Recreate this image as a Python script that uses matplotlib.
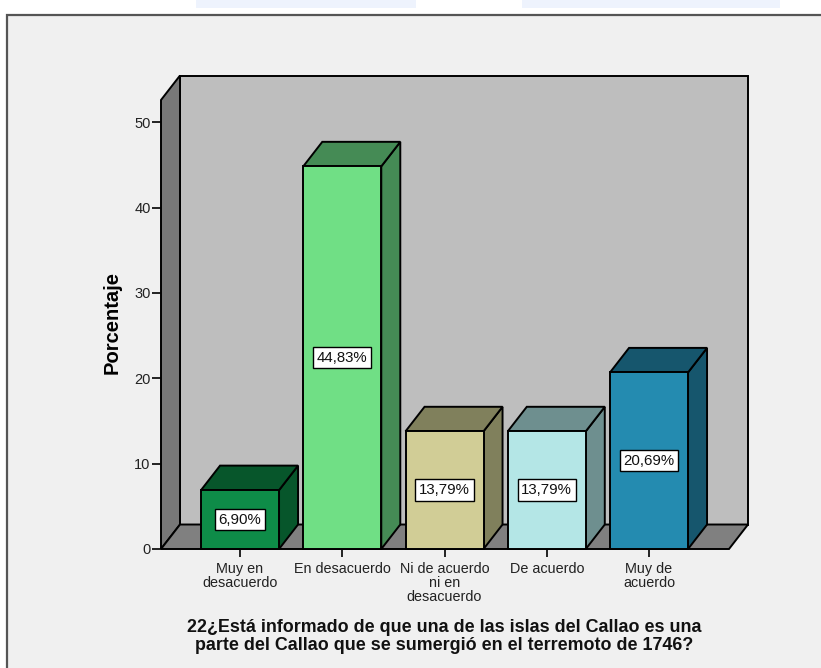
import matplotlib
matplotlib.use('Agg')
import matplotlib.pyplot as plt
from matplotlib.patches import Polygon, Rectangle

plt.rcParams['font.family'] = ['Liberation Sans', 'DejaVu Sans']

# Data
categories = ['Muy en\ndesacuerdo', 'En desacuerdo', 'Ni de acuerdo\nni en\ndesacuerdo',
              'De acuerdo', 'Muy de\nacuerdo']
values = [6.90, 44.83, 13.79, 13.79, 20.69]
value_labels = ['6,90%', '44,83%', '13,79%', '13,79%', '20,69%']
yticks = [0, 10, 20, 30, 40, 50]
title_lines = '22¿Está informado de que una de las islas del Callao es una\nparte del Callao que se sumergió en el terremoto de 1746?'

front_colors = ['#0e8c48', '#70df85', '#d1cd96', '#b4e6e6', '#248bb0']
side_colors = ['#07562b', '#458b55', '#80805c', '#6e8f8f', '#16566d']

W, H = 821, 668
fig = plt.figure(figsize=(W / 100, H / 100), dpi=100, facecolor='white')

# Grey panel behind the chart
fig.add_artist(Rectangle((7 / W, -0.01), 1.0, 1 - 15 / H + 0.01, transform=fig.transFigure,
                         facecolor='#f0f0f0', edgecolor='#555555', linewidth=1.6, zorder=-1))
# Pale strips along the upper edge
fig.add_artist(Rectangle((196 / W, 1 - 8 / H), 220 / W, 8 / H, transform=fig.transFigure,
                         facecolor='#eef3fd', edgecolor='none', zorder=-1))
fig.add_artist(Rectangle((522 / W, 1 - 8 / H), 258 / W, 8 / H, transform=fig.transFigure,
                         facecolor='#eef3fd', edgecolor='none', zorder=-1))

ax = fig.add_axes([161 / W, 1 - 549 / H, (729 - 161) / W, (549 - 100) / H])
ax.set_xlim(-0.773, 4.782)
ax.set_ylim(0, 52.6)
ax.patch.set_visible(False)
for s in ax.spines.values():
    s.set_visible(False)

# Depth offset of the 3D box, in data units
dx = 19 / 102.25
dy = 24.5 / 8.54
x0, x1 = ax.get_xlim()
y1 = ax.get_ylim()[1]
edge = dict(edgecolor='black', linewidth=1.4, clip_on=False)


def face(points, color, z):
    ax.add_patch(Polygon(points, closed=True, facecolor=color, zorder=z, **edge))


# Walls and floor
face([(x0 + dx, dy), (x1 + dx, dy), (x1 + dx, y1 + dy), (x0 + dx, y1 + dy)], '#bebebe', 1)
face([(x0, 0), (x0 + dx, dy), (x0 + dx, y1 + dy), (x0, y1)], '#787878', 1)
face([(x0, 0), (x1, 0), (x1 + dx, dy), (x0 + dx, dy)], '#808080', 1)

# Bars with their side and top faces
bar_w = 78 / 102.25
for i, v in enumerate(values):
    l, r = i - bar_w / 2, i + bar_w / 2
    face([(r, 0), (r + dx, dy), (r + dx, v + dy), (r, v)], side_colors[i], 2)
    face([(l, v), (r, v), (r + dx, v + dy), (l + dx, v + dy)], side_colors[i], 2)
ax.bar(range(len(values)), values, width=bar_w, color=front_colors, edgecolor='black',
       linewidth=1.4, zorder=3, clip_on=False)

for i, v in enumerate(values):
    ax.text(i, v / 2, value_labels[i], ha='center', va='center', fontsize=10.8, color='#111111', zorder=4,
            bbox=dict(boxstyle='square,pad=0.25', facecolor='white', edgecolor='black', linewidth=1.0))

ax.set_xticks(range(len(categories)))
ax.set_xticklabels(categories, fontsize=10.4, linespacing=0.97, color='#222222')
ax.set_yticks(yticks)
ax.tick_params(axis='x', length=5.5, width=1.2, pad=4)
ax.tick_params(axis='y', length=6.5, width=1.2, pad=1, labelsize=10.5, labelcolor='#222222')

fig.text(112 / W, 1 - 322.5 / H, 'Porcentaje', rotation=90, ha='center', va='center',
         fontsize=14.5, fontweight='bold')
fig.text(444 / W, 1 - 636.5 / H, title_lines, ha='center', va='center', fontsize=12.9,
         fontweight='bold', linespacing=1.08, color='#111111')

fig.savefig('out.png', dpi=100)
